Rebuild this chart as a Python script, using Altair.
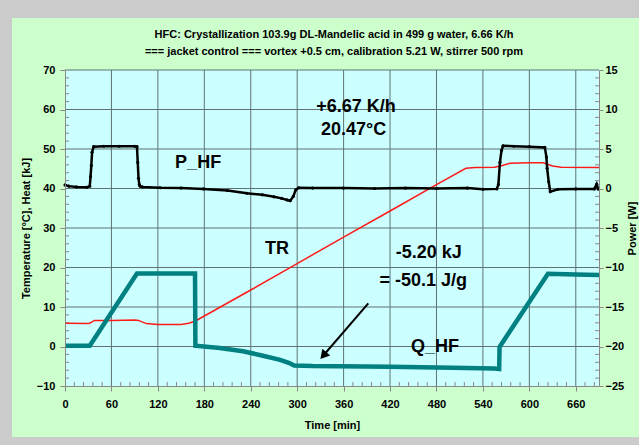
import altair as alt
import pandas as pd

# ---------------- data ----------------
# TR (red), degC vs time [min]
tr_t = [0, 30, 33, 38, 60, 90, 95, 105, 120, 150, 160, 168, 240, 300, 360, 420, 480, 518,
        530, 555, 565, 575, 600, 618, 630, 641, 690]
tr_v = [5.9, 5.8, 6.0, 6.6, 6.6, 6.7, 6.6, 5.8, 5.6, 5.6, 5.9, 6.4, 14.3, 21.0, 27.7, 34.3, 41.0, 45.1,
        45.3, 45.4, 45.8, 46.4, 46.5, 46.5, 45.7, 45.4, 45.3]

# Q_HF (teal), kJ
q_t = [0, 32, 93, 168, 168.5, 200, 230, 253, 278, 290, 296, 320, 420, 500, 555, 561, 561.5, 624, 660, 690]
q_v = [0.2, 0.2, 18.5, 18.5, 0.2, -0.4, -1.2, -2.2, -3.4, -4.2, -4.8, -4.95, -5.1, -5.4, -5.6, -5.7,
       -0.1, 18.4, 18.2, 18.1]

# P_HF (black dots), W  (right axis)
p_t = [0, 5, 15, 28, 32, 33, 34, 35, 37, 50, 70, 90, 93, 94, 95, 96, 97, 100, 123, 150, 179, 210,
       235, 255, 270, 280, 287, 291, 295, 298, 302, 320, 360, 400, 440, 480, 520, 540, 558, 560,
       562, 564, 566, 580, 600, 620, 622, 623, 625, 627, 637, 660, 684, 687, 689]
p_v = [0.45, 0.3, 0.2, 0.15, 0.3, 1.5, 2.9, 4.6, 5.3, 5.35, 5.35, 5.35, 5.3, 3.3, 1.3, 0.5, 0.3, 0.2,
       0.1, 0.05, -0.05, -0.25, -0.6, -0.8, -1.05, -1.25, -1.45, -1.55, -1.0, -0.2, 0.1, 0.05, 0.05,
       0.0, 0.05, 0.0, 0.05, -0.1, -0.05, 0.5, 3.3, 4.8, 5.4, 5.35, 5.3, 5.2, 4.0, 2.55, 0.85, -0.4,
       -0.1, -0.05, -0.05, 0.55, -0.1]

# annotations
ann_t = [376, 373, 172, 274, 470, 463, 478]
ann_v = [60.6, 54.8, 46.5, 24.7, 23.7, 16.6, -0.1]
ann_text = ["+6.67 K/h", "20.47\u00b0C", "P_HF", "TR", "-5.20 kJ", "= -50.1 J/g", "Q_HF"]

# arrow (start -> head)
arrow_t = [391.9]
arrow_v = [10.94]
arrow_t2 = [333.8]
arrow_v2 = [-2.28]

# ticks
x_ticks = list(range(0, 661, 60))
x_minor = [m for m in range(12, 690, 12) if m % 60 != 0]
y_ticks = list(range(-10, 71, 10))
y_minor = [m for m in range(-10, 71, 2) if m % 10 != 0]
p_ticks = list(range(-25, 16, 5))
p_minor = [m for m in range(-25, 16) if m % 5 != 0]

title_lines = ["HFC: Crystallization 103.9g DL-Mandelic acid in 499 g water, 6.66 K/h",
               "=== jacket control === vortex +0.5 cm, calibration 5.21 W, stirrer 500 rpm"]

# ---------------- layout ----------------
W, H = 534, 316
FONT = "Liberation Sans"
GRID = "#5f7373"
AXC = "#888888"

xscale = alt.Scale(domain=[0, 690], nice=False, zero=False)
lscale = alt.Scale(domain=[-10, 70], nice=False, zero=False)
rscale = alt.Scale(domain=[-25, 15], nice=False, zero=False)

xaxis = alt.Axis(values=x_ticks, title="Time [min]", grid=False, zindex=1,
                 labelFontWeight="bold", labelFontSize=11, labelColor="black", labelFont=FONT,
                 tickSize=5, tickColor=AXC, domainColor=AXC, labelPadding=7, labelFlush=False,
                 titleFont=FONT, titleFontSize=11, titleFontWeight="bold", titleColor="black",
                 titlePadding=10)
laxis = alt.Axis(values=y_ticks, title="Temperature [\u00b0C], Heat [kJ]", grid=False, zindex=1,
                 orient="left", labelFontWeight="bold", labelFontSize=11, labelColor="black",
                 labelFont=FONT, tickSize=5, tickColor=AXC, domainColor=AXC, labelPadding=5,
                 labelFlush=False, titleFont=FONT, titleFontSize=11, titleFontWeight="bold",
                 titleColor="black", titlePadding=5)
raxis = alt.Axis(values=p_ticks, title="Power [W]", grid=False, zindex=1, orient="right",
                 labelFontWeight="bold", labelFontSize=11, labelColor="black", labelFont=FONT,
                 tickSize=4, tickColor=AXC, domainColor=AXC, labelPadding=2, labelFlush=False,
                 titleFont=FONT, titleFontSize=11, titleFontWeight="bold", titleColor="black",
                 titlePadding=14, titleAngle=270)


def X(field="t"):
    return alt.X(field, type="quantitative", scale=xscale, axis=xaxis)


def YL(field="v", axis=None):
    return alt.Y(field, type="quantitative", scale=lscale, axis=axis)


def YR(field="v", axis=None):
    return alt.Y(field, type="quantitative", scale=rscale, axis=axis)


one = alt.Data(values=[{"a": 1}])

green = alt.Chart(one).mark_rect(color="#ccffcc").encode(
    x=alt.value(-53), x2=alt.value(574), y=alt.value(-52), y2=alt.value(367))
cyan = alt.Chart(one).mark_rect(color="#ccffff").encode(
    x=alt.value(0), x2=alt.value(W), y=alt.value(0), y2=alt.value(H))

title_df = pd.DataFrame({"line": title_lines, "row": [0, 1]})
title_mark = alt.Chart(title_df).transform_calculate(
    py="datum.row * 17 - 35").mark_text(
    font=FONT, fontSize=11, fontWeight="bold", color="black", align="center",
    baseline="middle").encode(
    x=alt.value(W / 2 + 2), y=alt.Y("py:Q", scale=None, axis=None), text="line:N")

vgrid = alt.Chart(pd.DataFrame({"t": [v for v in x_ticks if v > 0]})).mark_rule(
    color=GRID, strokeWidth=1).encode(x=X(), y=alt.value(0), y2=alt.value(H))
hgrid = alt.Chart(pd.DataFrame({"v": [v for v in y_ticks if v > -10]})).mark_rule(
    color=GRID, strokeWidth=1).encode(y=YL(), x=alt.value(0), x2=alt.value(W))

lminor = alt.Chart(pd.DataFrame({"v": y_minor})).mark_rule(color=AXC).encode(
    y=YL(), x=alt.value(0), x2=alt.value(4))
rminor = alt.Chart(pd.DataFrame({"v": p_minor})).mark_rule(color=AXC).encode(
    y=YR(), x=alt.value(W - 4), x2=alt.value(W))
bminor = alt.Chart(pd.DataFrame({"t": x_minor})).mark_rule(color=AXC).encode(
    x=X(), y=alt.value(H - 4), y2=alt.value(H))

tr = alt.Chart(pd.DataFrame({"t": tr_t, "v": tr_v})).mark_line(
    color="#ff1a1a", strokeWidth=1.5).encode(x=X(), y=YL())
q = alt.Chart(pd.DataFrame({"t": q_t, "v": q_v})).mark_line(
    color="#008080", strokeWidth=4.5).encode(x=X(), y=YL(axis=laxis))
p = alt.Chart(pd.DataFrame({"t": p_t, "v": p_v})).mark_line(
    color="black", strokeWidth=2.5,
    point=alt.OverlayMarkDef(color="black", filled=True, size=10)).encode(
    x=X(), y=YR(axis=raxis))

texts = alt.Chart(pd.DataFrame({"t": ann_t, "v": ann_v, "label": ann_text})).mark_text(
    font=FONT, fontSize=18, fontWeight="bold", color="black", align="center",
    baseline="middle").encode(x=X(), y=YL(), text="label:N")

arrow_df = pd.DataFrame({"t": arrow_t, "v": arrow_v, "t2": arrow_t2, "v2": arrow_v2})
arrow = alt.Chart(arrow_df).mark_rule(color="black", strokeWidth=2).encode(
    x=X(), y=YL(), x2="t2:Q", y2="v2:Q")
head = alt.Chart(arrow_df).mark_point(shape="triangle-up", filled=True, color="black",
                                      opacity=1, size=110, angle=221).encode(
    x=X("t2"), y=YL("v2"))

chart = alt.layer(
    green, cyan, title_mark, vgrid, hgrid, lminor, rminor, bminor, tr, q, p, texts, arrow, head
).resolve_scale(y="independent").properties(
    width=W, height=H,
    autosize=alt.AutoSizeParams(type="none"),
    padding={"left": 65, "top": 70, "right": 40, "bottom": 59},
    background="#cbcbcb",
).configure_view(stroke=None)

chart.save("out.html", embed_options={"renderer": "svg", "actions": False})
